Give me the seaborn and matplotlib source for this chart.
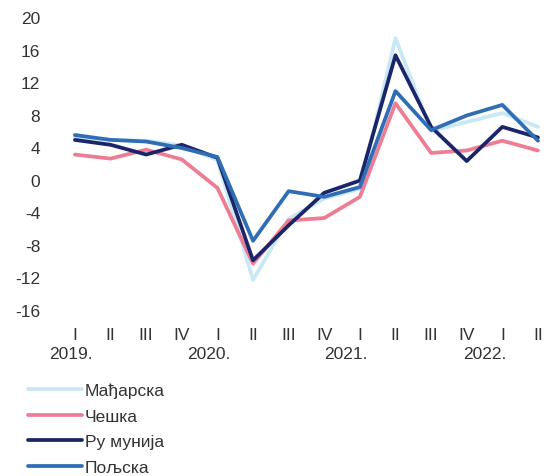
import pandas as pd
import numpy as np
import matplotlib.pyplot as plt
import seaborn as sns

sns.set_style('white')
plt.rcParams['font.family'] = ['Liberation Sans', 'DejaVu Sans']
plt.rcParams['axes.unicode_minus'] = False

quarters = ['I', 'II', 'III', 'IV', 'I', 'II', 'III', 'IV',
            'I', 'II', 'III', 'IV', 'I', 'II']
years = ['2019.', '2020.', '2021.', '2022.']
year_pos = [-0.1, 3.75, 7.6, 11.5]

hungary = [5.3, 4.9, 4.8, 4.2, 2.4, -12.3, -4.8, -2.3, -1.1, 17.4, 6.0, 7.1, 8.2, 6.5]
czechia = [3.1, 2.6, 3.7, 2.5, -1.0, -10.3, -5.0, -4.7, -2.1, 9.4, 3.3, 3.6, 4.8, 3.6]
romania = [4.9, 4.3, 3.1, 4.3, 2.7, -9.9, -5.6, -1.6, -0.1, 15.3, 6.5, 2.3, 6.5, 5.2]
poland = [5.5, 4.9, 4.7, 3.9, 2.8, -7.5, -1.4, -2.1, -0.9, 10.9, 6.1, 7.9, 9.2, 4.8]

names = ['Мађарска', 'Чешка', 'Ру мунија', 'Пољска']
colors = ['#c8e8f6', '#ee7d93', '#1b2569', '#2f6db5']

df = pd.DataFrame({
    'x': list(range(len(quarters))) * 4,
    'value': hungary + czechia + romania + poland,
    'country': np.repeat(names, len(quarters)),
})

fig = plt.figure(figsize=(5.44, 4.77), dpi=100)
ax = fig.add_axes([50 / 544, 1 - 311 / 477, 494 / 544, 293 / 477])

sns.lineplot(data=df, x='x', y='value', hue='country', palette=colors,
             hue_order=names, linewidth=2.7, ax=ax, legend=False)

ax.set_ylim(-16, 20)
ax.set_yticks(range(-16, 21, 4))
ax.set_xlim(-0.7, 13.17)
ax.set_xticks(range(len(quarters)))
ax.set_xticklabels(quarters)
ax.tick_params(axis='both', length=0, labelsize=12.5, colors='#333333')
ax.tick_params(axis='y', pad=7)
ax.tick_params(axis='x', pad=12)
ax.set_xlabel('')
ax.set_ylabel('')
for s in ax.spines.values():
    s.set_visible(False)

for xp, yr in zip(year_pos, years):
    ax.text(xp, -0.15, yr, transform=ax.get_xaxis_transform(),
            ha='center', va='center', fontsize=12.5, color='#333333')

handles = [plt.Line2D([], [], color=c, lw=2.7) for c in colors]
fig.legend(handles, names, loc='upper left', bbox_to_anchor=(0.035, 1 - 375 / 477),
           frameon=False, fontsize=12.5, handlelength=3.1, handletextpad=0.2,
           labelspacing=0.6, borderpad=0, labelcolor='#333333')

plt.savefig('out.png', dpi=100)
